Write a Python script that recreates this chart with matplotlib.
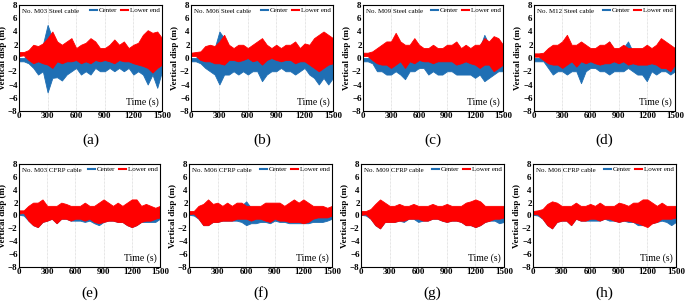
import numpy as np
import matplotlib
matplotlib.use("Agg")
import matplotlib.pyplot as plt
from matplotlib.lines import Line2D

plt.rcParams['font.family'] = ['Liberation Serif', 'DejaVu Serif']

# time axis (s), envelopes sampled every 50 s
t = np.arange(0, 1501, 50)

titles = ["No. M03 Steel cable", "No. M06 Steel cable", "No. M09 Steel cable", "No. M12 Steel cable",
          "No. M03 CFRP cable", "No. M06 CFRP cable", "No. M09 CFRP cable", "No. M06 CFRP cable"]
letters = ["(a)", "(b)", "(c)", "(d)", "(e)", "(f)", "(g)", "(h)"]

# ---- envelopes (upper / lower) for Center and Lower end
# (a) M03 steel
a_c_up = [0, 0, 0.5, 1.5, 1.5, 2, 5, 3, 2, 1.5, 2, 2.5, 1, 1.5, 2, 2.5, 2, 1, 1, 1.5, 2.2, 1.5, 2, 1, 1.5, 2, 3, 3.5, 3, 3.5, 2.5]
a_c_lo = [-0.5, -0.5, -0.8, -1.5, -2.5, -2, -5.2, -3, -2.9, -3.4, -2.5, -2, -1.5, -2.5, -2, -2.5, -1.5, -2, -2, -1.5, -2, -1.5, -2, -1.5, -2.5, -2, -2.5, -4, -2.5, -4.5, -2]
a_l_up = [0.9, 0.9, 1.2, 2, 1.8, 2.2, 3, 4, 2.5, 2, 2.5, 3, 1.5, 2, 2.3, 3, 2.5, 1.5, 1.5, 2, 2.8, 2, 2.5, 1.5, 2, 2.3, 3.5, 4.2, 3.8, 4, 3]
a_l_lo = [0.3, 0.4, -0.3, -0.8, -0.5, -0.8, -1, -1.5, -0.5, -0.8, -0.5, -0.5, -0.3, -0.8, -0.5, -0.8, -0.3, -0.5, -0.3, -0.5, -0.8, -0.3, -0.5, -0.5, -0.8, -1, -1.2, -1.5, -2.2, -1.5, -1]
# (b) M06 steel
b_c_up = [0, 0, 0.5, 1.5, 1.5, 1.5, 4, 3, 1.5, 1, 1.5, 1.5, 1, 1.5, 2, 2.5, 1.5, 1, 1.5, 1, 1.5, 1.5, 2, 1, 1.8, 1.5, 2.5, 3, 3.8, 3, 2.5]
b_c_lo = [-0.5, -0.5, -0.8, -1.5, -2, -2.5, -4, -2.5, -2.5, -2, -2.5, -2, -2.5, -2, -2, -3.5, -2.5, -2, -2, -1.5, -2, -2, -2.5, -2, -1.5, -2.5, -3, -4, -3, -4, -3]
b_l_up = [0.8, 0.9, 1, 1.8, 2, 1.8, 2.5, 3.5, 2, 1.5, 2, 2, 1.5, 2, 2.5, 3, 2, 1.5, 2, 1.5, 2, 2, 2.5, 1.5, 2.2, 2, 3, 3.5, 4, 3.5, 3]
b_l_lo = [0.3, 0.3, -0.3, -0.5, -0.5, -0.8, -0.8, -1, -0.3, -0.3, -0.5, -0.3, 0, -0.5, -0.3, -1, -0.3, 0, -0.3, -0.5, -0.3, -0.3, -0.8, -0.5, -0.5, -1, -1.5, -2, -1.5, -1, -0.8]
# (c) M09 steel
c_c_up = [0, 0, 0.5, 1, 1.5, 2, 2, 3, 2, 1.5, 1.5, 2.5, 1.5, 1, 1, 1.5, 1, 1, 1.5, 1.5, 2, 1, 1.5, 1, 1.5, 1.5, 3.5, 2, 3, 2.5, 1.5]
c_c_lo = [-0.5, -0.5, -0.8, -2, -2, -2.5, -2.5, -2, -2.5, -3.2, -2, -2, -1.5, -1.5, -2.5, -2, -2.5, -2.5, -2, -2, -2.5, -2.5, -2.5, -2.5, -3, -2.5, -3.5, -3, -2.5, -2, -2]
c_l_up = [0.8, 0.8, 1, 1.5, 2, 2.5, 2.5, 3.8, 2.5, 2, 2, 3, 2, 1.5, 1.5, 2, 1.5, 1.5, 2, 2, 2.5, 1.5, 2, 1.5, 2, 2, 3, 2.5, 3.3, 3, 2]
c_l_lo = [0.3, 0.3, -0.3, -0.8, -1, -1, -1.5, -1, -0.5, -1.5, -0.5, -0.8, -0.3, -0.5, -0.5, -0.8, -0.5, -0.5, -0.5, -0.5, -1, -0.8, -0.5, -0.8, -1, -1.5, -1, -1, -2, -1.5, -1]
# (d) M12 steel
d_c_up = [0, 0, 0.3, 1, 1.5, 1.5, 2, 3, 1.5, 1.5, 2, 1.5, 1, 1, 1.5, 1.5, 2.5, 1, 1, 1.5, 2.5, 1, 1, 1, 1.5, 1, 1.5, 2.5, 2, 1.5, 1]
d_c_lo = [-0.5, -0.5, -0.5, -1.5, -2.5, -2, -2, -2.5, -2, -2, -3.8, -2, -1.5, -1.5, -2, -2, -2.5, -2, -2, -2, -1.5, -2, -2.5, -2.5, -3.5, -2, -2.5, -2, -2, -2.5, -2]
d_l_up = [0.7, 0.7, 0.8, 1.5, 2, 2, 2.5, 3.5, 2, 2, 2.5, 2, 1.5, 1.5, 2, 2, 2.5, 1.5, 1.5, 2, 1.5, 1.5, 1.5, 1.5, 2, 1.5, 2, 3, 2.5, 2, 1.5]
d_l_lo = [0.2, 0.2, -0.3, -0.8, -1, -1, -1.5, -1, -0.5, -1.3, -0.5, -0.8, -0.5, -0.8, -1, -0.8, -0.8, -0.5, -0.8, -0.5, -1, -0.8, -1, -1, -1, -0.8, -1, -1.5, -1.5, -2, -1]
# (e) M03 CFRP
e_c_up = [0.3, 0.3, 1, 1.5, 1.5, 2, 1.2, 1.2, 1.2, 1.5, 1.5, 1.2, 1.2, 1.2, 1.5, 1.2, 1.2, 1.5, 2, 1.5, 1.2, 1.5, 1.2, 1.5, 2, 2, 1.2, 1.5, 1.2, 1, 1.2]
e_c_lo = [0.1, 0, -0.8, -1.5, -1.8, -1, -0.8, -0.5, -1.2, -0.5, -0.5, -0.8, -0.8, -0.8, -1, -0.8, -1.2, -1.5, -1, -0.8, -0.8, -1, -1, -1.5, -1.8, -1.5, -1, -1, -1, -1, -0.5]
e_l_up = [0.8, 0.8, 1.5, 2, 2, 2.5, 1.5, 1.5, 1.5, 2, 1.8, 1.5, 1.5, 1.5, 2, 1.5, 1.5, 2, 2.5, 2, 1.5, 2, 1.5, 2, 2.5, 2.5, 1.5, 1.8, 1.5, 1.2, 1.5]
e_l_lo = [0.3, 0.4, -0.8, -1.5, -1.8, -1, -0.8, -0.5, -1.2, -0.5, -0.5, -0.8, -0.5, -0.5, -0.8, -0.5, -1, -1.2, -1, -0.8, -0.8, -1, -1, -1.5, -1.8, -1.5, -1, -0.8, -0.8, -0.5, -0.3]
# (f) M06 CFRP
f_c_up = [0.3, 0.3, 1, 1.5, 2, 1.5, 1.5, 1.2, 1.5, 1.2, 1.5, 1.5, 2.2, 1.2, 1.2, 1.2, 1.5, 1.5, 1.5, 1.5, 1.2, 1.5, 2, 1.5, 2, 1.5, 1.2, 1.2, 1.2, 1, 1.2]
f_c_lo = [0.1, 0, -0.5, -1.5, -1.5, -1, -1, -0.8, -0.8, -0.8, -0.8, -1, -1.5, -1.2, -1.2, -1, -1, -1.2, -0.8, -1, -1, -1.2, -1.2, -1.2, -1.2, -1.2, -1, -1, -1, -0.8, -0.5]
f_l_up = [0.7, 0.7, 1.5, 1.8, 2.5, 1.8, 2, 1.5, 2, 1.5, 2, 2, 1.5, 1.5, 1.5, 1.5, 2, 2, 2, 2, 1.5, 2, 2.5, 2, 2.5, 2, 1.5, 1.5, 1.5, 1.2, 1.5]
f_l_lo = [0.2, 0.3, -0.5, -1.5, -1.5, -1, -1, -0.8, -0.8, -0.8, -0.5, -0.5, -0.5, -0.8, -0.5, -0.5, -0.8, -1, -0.5, -0.8, -0.8, -1, -1, -1, -1.2, -1, -0.5, -0.3, -0.3, -0.3, 0]
# (g) M09 CFRP
g_c_up = [0.3, 0.3, 0.8, 1.5, 2, 1.5, 1.2, 1.2, 1.5, 1.2, 1.2, 1.5, 1.2, 1.2, 1.2, 1.5, 1.2, 1.2, 1.5, 1.2, 1.2, 1.2, 1.5, 1.8, 2, 1.8, 1.2, 1.2, 1.2, 1.2, 1.2]
g_c_lo = [0.1, 0, -0.5, -1.5, -2, -1, -1, -1, -0.8, -1, -0.5, -0.5, -1, -0.8, -0.8, -0.5, -0.5, -0.8, -1, -0.8, -0.8, -1, -1.5, -1.5, -1.8, -1.5, -1, -0.8, -0.8, -1.2, -1]
g_l_up = [0.7, 0.7, 1, 1.8, 2.5, 2, 1.5, 1.5, 1.8, 1.5, 1.5, 1.8, 1.5, 1.5, 1.5, 1.8, 1.5, 1.5, 1.8, 1.5, 1.5, 1.5, 2, 2.2, 2.5, 2.2, 1.5, 1.5, 1.5, 1.5, 1.5]
g_l_lo = [0.1, 0.2, -0.5, -1.5, -2, -1, -1, -1, -0.8, -0.8, -0.5, -0.5, -0.5, -0.8, -0.8, -0.5, -0.5, -0.8, -1, -0.8, -0.8, -1, -1.5, -1.5, -1.8, -1.5, -1, -0.8, -0.5, -0.5, -0.3]
# (h) M06 CFRP
h_c_up = [0.3, 0.3, 0.8, 1.5, 1.8, 1.5, 1.2, 1.2, 1.2, 1.5, 1.2, 1.2, 1.5, 1.2, 1.5, 1.2, 1.2, 1.2, 1.5, 1.5, 1.2, 1.5, 1.5, 2, 2, 1.5, 1.2, 1.5, 1.2, 1.2, 1.2]
h_c_lo = [0.1, 0, -0.5, -1.5, -2, -1, -0.8, -0.8, -1.5, -0.5, -0.8, -0.8, -0.8, -0.8, -0.8, -0.5, -0.8, -0.8, -1, -0.8, -1, -1, -1.5, -1.5, -1.2, -1.2, -1, -0.8, -1, -1.5, -1]
h_l_up = [0.7, 0.8, 1, 1.8, 2.2, 2, 1.5, 1.5, 1.5, 2, 1.5, 1.5, 1.8, 1.5, 2, 1.5, 1.5, 1.5, 2, 1.8, 1.5, 2, 2, 2.5, 2.5, 2, 1.5, 2, 1.5, 1.5, 1.5]
h_l_lo = [0.2, 0.2, -0.5, -1.5, -2, -1, -0.8, -0.8, -1.5, -0.5, -0.8, -0.8, -0.5, -0.5, -0.8, -0.5, -0.5, -0.8, -1, -0.8, -0.8, -1, -1.2, -1.5, -1.8, -1.2, -1, -0.5, -0.5, -0.5, -0.3]

center = [(a_c_up, a_c_lo), (b_c_up, b_c_lo), (c_c_up, c_c_lo), (d_c_up, d_c_lo),
          (e_c_up, e_c_lo), (f_c_up, f_c_lo), (g_c_up, g_c_lo), (h_c_up, h_c_lo)]
lower = [(a_l_up, a_l_lo), (b_l_up, b_l_lo), (c_l_up, c_l_lo), (d_l_up, d_l_lo),
         (e_l_up, e_l_lo), (f_l_up, f_l_lo), (g_l_up, g_l_lo), (h_l_up, h_l_lo)]

blue = "#1f6fb4"
red = "#ff0000"

W, H = 685, 303
fig = plt.figure(figsize=(6.85, 3.03), dpi=100)

# axes boxes in pixels: left, top, right, bottom
boxes = [(19, 5, 162, 111), (191, 5, 333, 111), (363, 5, 503, 111), (534, 5, 675, 111),
         (19, 164, 160, 267), (189, 164, 332, 267), (361, 164, 504, 267), (533, 164, 676, 267)]

for i in range(8):
    l, tp, r, b = boxes[i]
    ax = fig.add_axes([l / W, 1 - b / H, (r - l) / W, (b - tp) / H])
    ax.fill_between(t, center[i][1], center[i][0], color=blue, lw=0.6, ec=blue)
    ax.fill_between(t, lower[i][1], lower[i][0], color=red, lw=0.6, ec=red)
    ax.set_xlim(0, 1500)
    ax.set_ylim(-8, 8)
    ax.set_xticks(np.arange(0, 1501, 300))
    ax.set_yticks(np.arange(-8, 9, 2))
    ax.tick_params(labelsize=6.5, length=0, pad=1)
    for lab in ax.get_xticklabels() + ax.get_yticklabels():
        lab.set_fontweight('bold')
    for xg in [300, 600, 900, 1200]:
        ax.axvline(xg, color="#cccccc", lw=0.5, ls=(0, (1, 1)), zorder=0)
    for s in ax.spines.values():
        s.set_linewidth(0.8)
    ax.set_ylabel("Vertical disp (m)", fontsize=6.5, fontweight='bold', labelpad=0)
    ax.yaxis.set_label_coords(-0.085, 0.5)
    ax.text(0.02, 0.965, titles[i], transform=ax.transAxes, fontsize=5, va='top', ha='left')
    ax.text(0.98, 0.04, "Time (s)", transform=ax.transAxes, fontsize=7, va='bottom', ha='right')
    handles = [Line2D([], [], color=blue, lw=1.5), Line2D([], [], color=red, lw=1.5)]
    ax.legend(handles, ["Center", "Lower end"], loc='upper right', ncol=2, frameon=False,
              fontsize=5, handlelength=1.0, handletextpad=0.25, columnspacing=0.5,
              borderaxespad=0.15, borderpad=0.2)
    cx = (l + r) / 2 / W
    ly = 140 if i < 4 else 293
    fig.text(cx, 1 - ly / H, letters[i], fontsize=11, ha='center', va='center')

fig.savefig("out.png", dpi=100)
